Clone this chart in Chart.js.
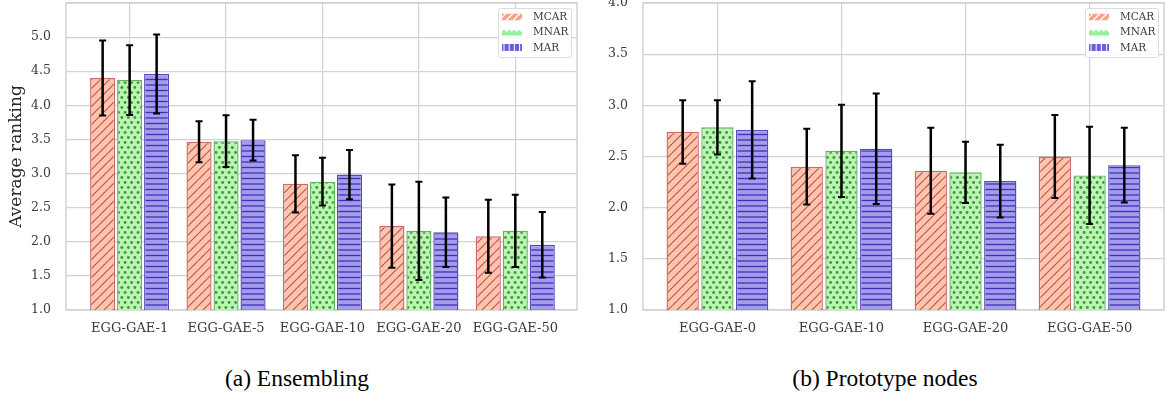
<!DOCTYPE html>
<html>
<head>
<meta charset="utf-8">
<script src="https://cdn.jsdelivr.net/npm/chart.js@4.4.1/dist/chart.umd.min.js"></script>
<style>
  html, body { margin: 0; padding: 0; background: #ffffff; width: 1165px; height: 396px; overflow: hidden; }
  #wrapA { position: absolute; left: 0; top: 0; width: 582px; height: 345px; }
  #wrapB { position: absolute; left: 582px; top: 0; width: 583px; height: 345px; }
  .caption { position: absolute; top: 363px; font-family: "Liberation Serif", "Times New Roman", serif; font-size: 23.5px; color: #000; text-align: center; line-height: 30px; }
  #capA { left: 97px; width: 400px; }
  #capB { left: 685px; width: 400px; }
</style>
</head>
<body>
<div id="wrapA"><canvas id="chartA" width="582" height="345"></canvas></div>
<div id="wrapB"><canvas id="chartB" width="583" height="345"></canvas></div>
<div class="caption" id="capA">(a) Ensembling</div>
<div class="caption" id="capB">(b) Prototype nodes</div>
<script>
// ---------- DATA ----------
const seriesNames = ['MCAR', 'MNAR', 'MAR'];

// (a) Ensembling
const categoriesA = ['EGG-GAE-1', 'EGG-GAE-5', 'EGG-GAE-10', 'EGG-GAE-20', 'EGG-GAE-50'];
const mcarA = [4.40, 3.465, 2.85, 2.23, 2.08];
const mnarA = [4.37, 3.475, 2.88, 2.16, 2.16];
const marA  = [4.46, 3.49, 2.985, 2.14, 1.955];
const mcarErrA = [0.55, 0.30, 0.42, 0.61, 0.535];
const mnarErrA = [0.51, 0.38, 0.35, 0.72, 0.53];
const marErrA  = [0.58, 0.30, 0.36, 0.51, 0.48];
const yTicksA = [1.0, 1.5, 2.0, 2.5, 3.0, 3.5, 4.0, 4.5, 5.0];

// (b) Prototype nodes
const categoriesB = ['EGG-GAE-0', 'EGG-GAE-10', 'EGG-GAE-20', 'EGG-GAE-50'];
const mcarB = [2.74, 2.40, 2.36, 2.50];
const mnarB = [2.785, 2.555, 2.345, 2.315];
const marB  = [2.76, 2.575, 2.26, 2.415];
const mcarErrB = [0.31, 0.37, 0.42, 0.405];
const mnarErrB = [0.265, 0.45, 0.30, 0.475];
const marErrB  = [0.475, 0.54, 0.355, 0.365];
const yTicksB = [1.0, 1.5, 2.0, 2.5, 3.0, 3.5, 4.0];

// ---------- STYLE ----------
const SERIF = '"DejaVu Serif", serif';
const GRID = '#d2d2d2';
const TICK = '#3a3a3a';

function tile(w, h, draw) {
  const c = document.createElement('canvas');
  c.width = w; c.height = h;
  const g = c.getContext('2d');
  draw(g, w, h);
  return document.createElement('canvas').getContext('2d').createPattern(c, 'repeat');
}
const patMCAR = tile(9, 9, (g, w, h) => {
  g.fillStyle = '#fcc6ae'; g.fillRect(0, 0, w, h);
  g.strokeStyle = '#c9504d'; g.lineWidth = 1.2;
  for (const o of [-w, 0, w]) {
    g.beginPath(); g.moveTo(o, h); g.lineTo(o + w, 0); g.stroke();
  }
});
const patMNAR = tile(13, 10, (g, w, h) => {
  g.fillStyle = '#bcf4b4'; g.fillRect(0, 0, w, h);
  g.fillStyle = '#3a9a3a';
  const pts = [[1.6, 2.5], [8.1, 2.5], [14.6, 2.5], [-4.9, 7.5], [4.85, 7.5], [11.35, 7.5]];
  for (const [x, y] of pts) { g.beginPath(); g.arc(x, y, 1.45, 0, Math.PI * 2); g.fill(); }
});
const patMAR = tile(10, 11, (g, w, h) => {
  g.fillStyle = '#a49ceb'; g.fillRect(0, 0, w, h);
  g.strokeStyle = '#3b33b2'; g.lineWidth = 1.3;
  for (const y of [2.5, 8]) { g.beginPath(); g.moveTo(0, y); g.lineTo(w, y); g.stroke(); }
});

const seriesFill = [patMCAR, patMNAR, patMAR];
const seriesEdge = ['rgba(195,80,75,0.85)', 'rgba(70,165,70,0.85)', 'rgba(55,45,175,0.85)'];

// plugin: frame, error bars, legend
const decorPlugin = {
  id: 'decor',
  beforeDatasetsDraw(chart) {
    const a = chart.chartArea, ctx = chart.ctx;
    ctx.save();
    ctx.strokeStyle = GRID; ctx.lineWidth = 1.5;
    ctx.strokeRect(a.left, a.top, a.right - a.left, a.bottom - a.top);
    ctx.restore();
  },
  afterDatasetsDraw(chart) {
    const ctx = chart.ctx, yScale = chart.scales.y;
    const errs = chart.options.plugins.decor.errors;
    ctx.save();
    ctx.strokeStyle = '#000';
    chart.data.datasets.forEach((ds, di) => {
      const meta = chart.getDatasetMeta(di);
      meta.data.forEach((bar, i) => {
        const v = ds.data[i].y, e = errs[di][i];
        const yTop = yScale.getPixelForValue(v + e);
        const yBot = yScale.getPixelForValue(v - e);
        ctx.lineWidth = 2.5;
        ctx.beginPath(); ctx.moveTo(bar.x, yTop); ctx.lineTo(bar.x, yBot); ctx.stroke();
        ctx.lineWidth = 2;
        ctx.beginPath();
        ctx.moveTo(bar.x - 3.5, yTop); ctx.lineTo(bar.x + 3.5, yTop);
        ctx.moveTo(bar.x - 3.5, yBot); ctx.lineTo(bar.x + 3.5, yBot);
        ctx.stroke();
      });
    });
    ctx.restore();

    // legend (upper right)
    const a = chart.chartArea;
    const L = chart.options.plugins.decor.legend;
    const bx = a.right - L.right - L.w, by = a.top + 5;
    ctx.save();
    ctx.fillStyle = 'rgba(255,255,255,0.9)';
    ctx.strokeStyle = '#dcdcdc'; ctx.lineWidth = 1;
    ctx.beginPath();
    if (ctx.roundRect) ctx.roundRect(bx + 0.5, by + 0.5, L.w, 49, 2); else ctx.rect(bx + 0.5, by + 0.5, L.w, 49);
    ctx.fill(); ctx.stroke();
    chart.data.datasets.forEach((ds, di) => {
      const cy = by + 9 + di * 15.2;
      const sx = bx + 4;
      drawSwatch(ctx, di, sx, cy - 3.5, 20, 7);
      ctx.fillStyle = TICK;
      ctx.font = '10.5px ' + SERIF;
      ctx.textBaseline = 'middle';
      ctx.textAlign = 'left';
      ctx.fillText(ds.label, sx + 31, cy + 0.5);
    });
    ctx.restore();
  }
};

function drawSwatch(ctx, di, x, y, w, h) {
  ctx.save();
  ctx.beginPath(); ctx.rect(x, y, w, h); ctx.clip();
  if (di === 0) {
    ctx.fillStyle = '#fca383'; ctx.fillRect(x, y, w, h);
    ctx.strokeStyle = '#ffffff'; ctx.lineWidth = 1.2;
    for (let o = -10; o < w + 10; o += 7) { ctx.beginPath(); ctx.moveTo(x + o, y + h); ctx.lineTo(x + o + h, y); ctx.stroke(); }
  } else if (di === 1) {
    ctx.fillStyle = '#98f098'; ctx.fillRect(x, y + 3, w, h - 3);
    for (let o = 2; o < w; o += 5) { ctx.beginPath(); ctx.arc(x + o, y + 3, 1.8, 0, Math.PI * 2); ctx.fill(); }
  } else {
    ctx.fillStyle = '#6a5fd8'; ctx.fillRect(x, y, w, h);
    ctx.fillStyle = '#ffffff';
    for (let o = 1.5; o < w; o += 5.2) { ctx.fillRect(x + o, y, 1, h); }
  }
  ctx.restore();
}

function buildChart(id, cats, series, errors, yTicks, xRange, yMax, yTitle, yWidth, padRight, legendRight) {
  const datasets = series.map((vals, si) => ({
    label: seriesNames[si],
    data: vals.map((v, i) => ({ x: i, y: v })),
    backgroundColor: seriesFill[si],
    borderColor: seriesEdge[si],
    borderWidth: 1.4,
    borderSkipped: false,
    categoryPercentage: 0.84,
    barPercentage: 0.93
  }));
  return new Chart(document.getElementById(id), {
    type: 'bar',
    data: { datasets },
    plugins: [decorPlugin],
    options: {
      responsive: false,
      animation: false,
      events: [],
      layout: { padding: { left: 0, top: 3, right: padRight, bottom: 0 } },
      plugins: {
        legend: { display: false },
        tooltip: { enabled: false },
        decor: { errors, legend: { w: 73, right: 6 + legendRight } }
      },
      scales: {
        x: {
          type: 'linear',
          min: xRange[0], max: xRange[1],
          offset: false,
          grid: { color: GRID, lineWidth: 1.2, drawTicks: false, offset: false },
          border: { display: false },
          ticks: {
            stepSize: 1, includeBounds: false, autoSkip: false, maxRotation: 0,
            padding: 11, color: TICK, font: { family: SERIF, size: 13 },
            callback: (v) => Number.isInteger(v) ? cats[v] : ''
          },
          afterFit: (s) => { s.height = 35; s.paddingLeft = 0; s.paddingRight = 0; }
        },
        y: {
          min: yTicks[0], max: yMax,
          grid: { color: GRID, lineWidth: 1.2, drawTicks: false },
          border: { display: false },
          ticks: {
            stepSize: 0.5, padding: 15, color: TICK, font: { family: SERIF, size: 12.5 },
            callback: (v) => yTicks.some(t => Math.abs(t - v) < 1e-6) ? v.toFixed(1) : ''
          },
          title: {
            display: !!yTitle, text: yTitle, color: '#262626',
            font: { family: SERIF, size: 17 }, padding: { top: 6, bottom: 0 }
          },
          afterFit: (s) => { s.width = yWidth; s.paddingTop = 0; s.paddingBottom = 0; }
        }
      }
    }
  });
}

buildChart('chartA', categoriesA, [mcarA, mnarA, marA], [mcarErrA, mnarErrA, marErrA],
  yTicksA, [-0.66, 4.64], 5.5, 'Average ranking', 66, 5, 0);
buildChart('chartB', categoriesB, [mcarB, mnarB, marB], [mcarErrB, mnarErrB, marErrB],
  yTicksB, [-0.6, 3.6], 4.0, '', 61, 1, 0);
</script>
</body>
</html>
